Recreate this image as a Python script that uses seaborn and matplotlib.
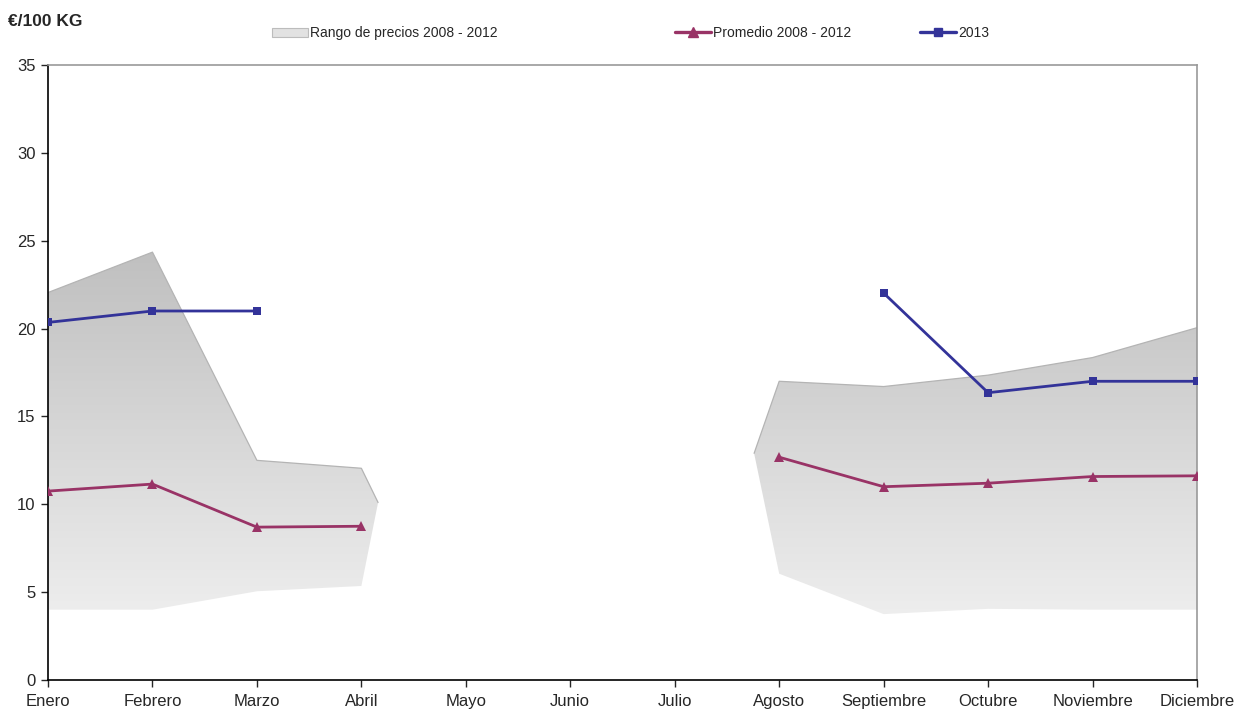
"""
Precios medios mensuales (€/100 kg): rango y promedio 2008-2012 frente a 2013
"""

import matplotlib
matplotlib.use("Agg")

import numpy as np
import pandas as pd
import matplotlib.pyplot as plt
import seaborn as sns
from matplotlib.colors import LinearSegmentedColormap
from matplotlib.lines import Line2D
from matplotlib.patches import Patch, Polygon

sns.set_style("white")
plt.rcParams['font.family'] = ['Liberation Sans', 'DejaVu Sans']

# ─────────────────────────────────────────────
# DATOS
# ─────────────────────────────────────────────
meses = ['Enero', 'Febrero', 'Marzo', 'Abril', 'Mayo', 'Junio', 'Julio',
         'Agosto', 'Septiembre', 'Octubre', 'Noviembre', 'Diciembre']
nan = np.nan
rango_min = [4.0, 4.0, 5.05, 5.35, nan, nan, nan, 6.05, 3.75, 4.05, 4.0, 4.0]
rango_max = [22.05, 24.35, 12.5, 12.05, nan, nan, nan, 17.0, 16.7, 17.35, 18.35, 20.05]
# puntos de cierre del área (posición en meses, valor)
cierre_x = [3.16, 6.76]
cierre_y = [10.1, 12.9]
promedio = [10.75, 11.15, 8.7, 8.75, nan, nan, nan, 12.68, 11.0, 11.2, 11.58, 11.62]
precio_2013 = [20.35, 21.0, 21.0, nan, nan, nan, nan, nan, 22.02, 16.35, 17.0, 17.0]

COLOR_PROM = '#993366'
COLOR_2013 = '#333399'


def tramos(valores):
    """Numera los tramos continuos de una serie con huecos"""
    ids, t, prev = [], 0, False
    for v in valores:
        ok = not np.isnan(v)
        if ok and not prev:
            t += 1
        ids.append(t if ok else None)
        prev = ok
    return ids


rows = []
for nombre, serie in [('Promedio 2008 - 2012', promedio), ('2013', precio_2013)]:
    for i, (v, t) in enumerate(zip(serie, tramos(serie))):
        if t is not None:
            rows.append({'mes': i, 'precio': v, 'serie': nombre, 'tramo': f'{nombre}-{t}'})
df = pd.DataFrame(rows)

# ─────────────────────────────────────────────
# GRÁFICO
# ─────────────────────────────────────────────
fig = plt.figure(figsize=(12.34, 7.09), dpi=100)
ax = fig.add_axes([48 / 1234, 29 / 709, (1197 - 48) / 1234, (680 - 65) / 709])

# área del rango con degradado vertical
cmap = LinearSegmentedColormap.from_list('gris', ['#eeeeee', '#bdbdbd'])
grad = np.linspace(0, 1, 256).reshape(-1, 1)
idx = np.arange(len(meses))
lo, hi = np.array(rango_min), np.array(rango_max)
for seg, extra in [(idx[:4], 0), (idx[7:], 1)]:
    xs = list(seg)
    los, his = list(lo[seg]), list(hi[seg])
    if extra == 0:
        xs, los, his = xs + [cierre_x[0]], los + [cierre_y[0]], his + [cierre_y[0]]
    else:
        xs, los, his = [cierre_x[1]] + xs, [cierre_y[1]] + los, [cierre_y[1]] + his
    verts = list(zip(xs, his)) + list(zip(xs[::-1], los[::-1]))
    poly = Polygon(verts, closed=True, facecolor='none', edgecolor='none')
    ax.add_patch(poly)
    im = ax.imshow(grad, extent=[0, 11, 3.5, 25.5], origin='lower', cmap=cmap,
                   aspect='auto', zorder=1)
    im.set_clip_path(poly)
    ax.plot(xs, his, color='#b4b4b4', lw=0.9, zorder=1.5)

sns.lineplot(data=df, x='mes', y='precio', hue='serie', style='serie', units='tramo',
             estimator=None, palette={'Promedio 2008 - 2012': COLOR_PROM, '2013': COLOR_2013},
             markers={'Promedio 2008 - 2012': '^', '2013': 's'}, dashes=False,
             linewidth=2.0, markersize=7, markeredgewidth=0, legend=False, ax=ax, zorder=3)
# cuadrados algo más pequeños que los triángulos
for ln in ax.lines:
    if ln.get_marker() == 's':
        ln.set_markersize(5.5)

ax.set_xlim(0, 11)
ax.set_ylim(0, 35)
ax.set_xticks(idx)
ax.set_xticklabels(meses, fontsize=12)
ax.set_yticks(range(0, 36, 5))
ax.tick_params(axis='y', labelsize=12, length=5, width=1, direction='out', left=True, pad=4)
ax.tick_params(axis='x', length=5, width=1, direction='out', bottom=True, pad=5)
ax.set_xlabel('')
ax.set_ylabel('')
for s in ['left', 'bottom']:
    ax.spines[s].set_color('black')
    ax.spines[s].set_linewidth(1.2)
for s in ['top', 'right']:
    ax.spines[s].set_color('#999999')
    ax.spines[s].set_linewidth(1.2)

fig.text(8 / 1234, 1 - 22 / 709, '€/100 KG', fontsize=12.5, fontweight='bold',
         va='center', ha='left')

# leyendas separadas, como en el original
entradas = [
    (Patch(facecolor='#e2e2e2', edgecolor='#bcbcbc', lw=0.8), 'Rango de precios 2008 - 2012', 272),
    (Line2D([], [], color=COLOR_PROM, lw=2.4, marker='^', markersize=7), 'Promedio 2008 - 2012', 675),
    (Line2D([], [], color=COLOR_2013, lw=2.4, marker='s', markersize=5.5), '2013', 920),
]
for h, lab, xpx in entradas:
    leg = fig.legend([h], [lab], loc='center left', bbox_to_anchor=(xpx / 1234, 1 - 33 / 709),
                     frameon=False, fontsize=10, handlelength=2.6, handleheight=0.6,
                     handletextpad=0.15, borderpad=0, borderaxespad=0)

plt.savefig('out.png', dpi=100)
plt.close()
